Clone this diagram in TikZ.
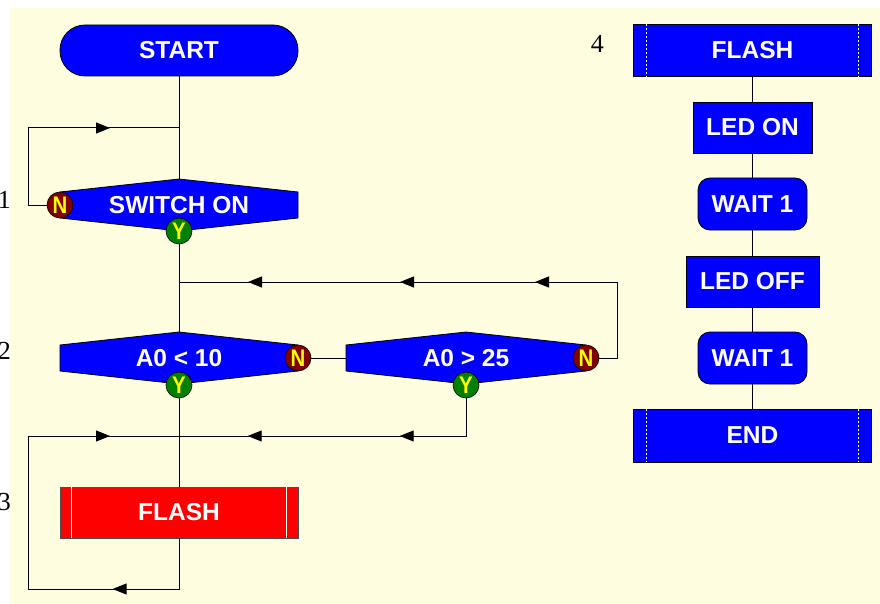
\documentclass[tikz,border=0pt]{standalone}
\usepackage{fontspec}
\setmainfont{Liberation Sans}
\newfontfamily\numfont{Liberation Serif}
\usetikzlibrary{arrows.meta,decorations.markings}
\definecolor{bgyel}{RGB}{255,253,224}
\definecolor{fcblue}{RGB}{0,0,255}
\definecolor{fcred}{RGB}{255,0,0}
\definecolor{nred}{RGB}{128,0,0}
\definecolor{ygreen}{RGB}{0,128,0}
\definecolor{ltxt}{RGB}{255,255,0}
\tikzset{
  txt/.style={text=white, font=\bfseries\fontsize{24.5}{30}\selectfont, inner sep=0pt, align=center},
  box/.style={txt, draw=black, line width=0.8pt, fill=fcblue},
  conn/.style={line width=1pt, draw=black},
  arrat/.style={postaction={decorate,decoration={markings,mark=at position #1 with {\arrow{Triangle[length=14pt,width=11pt]}}}}},
  nb/.style={circle, draw=black, line width=0.6pt, fill=nred, minimum size=26pt, inner sep=0pt, text=ltxt, font=\bfseries\fontsize{24}{24}\selectfont},
  yb/.style={nb, fill=ygreen},
  lbl/.style={font=\numfont\fontsize{26}{30}\selectfont, inner sep=0pt, anchor=base east},
  wline/.style={white, line width=1pt},
}
% name, x, y, halfwidth, fullwidth, text
\newcommand\decis[6]{%
  \filldraw[fill=fcblue, draw=black, line width=0.8pt] ({#2-#4},{#3-13}) -- (#2,{#3-26}) -- ({#2+#4},{#3-13}) -- ({#2+#4},{#3+13}) -- (#2,{#3+26}) -- ({#2-#4},{#3+13}) -- cycle;
  \node[txt, minimum width=#5pt, minimum height=52pt] (#1) at (#2,#3) {#6};}
\begin{document}
\begin{tikzpicture}[x=1pt,y=-1pt]
\useasboundingbox (0,0) rectangle (880,604);
\fill[bgyel] (10,8) rectangle (880,604);

% left column
\node[box, rounded corners=25pt, minimum width=238pt, minimum height=51pt] (start) at (179,50.5) {START};
\decis{sw}{179}{205}{119}{238}{SWITCH ON}
\node[nb] (n1) at (60,205) {\scalebox{0.85}[1]{N}};
\node[yb] (y1) at (179,231) {\scalebox{0.85}[1]{Y}};
\decis{a1}{179}{358}{119}{238}{A0 < 10}
\node[nb] (n2) at (298,358) {\scalebox{0.85}[1]{N}};
\node[yb] (y2) at (179,385) {\scalebox{0.85}[1]{Y}};
\decis{a2}{466}{358}{120}{240}{A0 > 25}
\node[nb] (n3) at (586,358) {\scalebox{0.85}[1]{N}};
\node[yb] (y3) at (466,385) {\scalebox{0.85}[1]{Y}};
\node[box, fill=fcred, draw=black!70, minimum width=238pt, minimum height=51pt] (fl) at (179,512.5) {FLASH};
\draw[wline] ([xshift=12pt]fl.north west) -- ([xshift=12pt]fl.south west);
\draw[wline] ([xshift=-12pt]fl.north east) -- ([xshift=-12pt]fl.south east);

% labels
\node[lbl] (lab1) at (11,208) {1};
\node[lbl] (lab2) at (11,359) {2};
\node[lbl] (lab3) at (11,510) {3};
\node[lbl] (lab4) at (604,53) {4};

% left connectors
\coordinate (l1) at (28,128);
\coordinate (j1) at (179,282);
\coordinate (r1) at (617,282);
\coordinate (j2) at (179,436);
\coordinate (b1) at (28,589);
\draw[conn] (start.south) -- (sw.north);
\draw[conn] (n1.west) -| (l1);
\draw[conn, arrat=82pt] (l1) -- (start.south |- l1);
\draw[conn] (y1.south) -- (a1.north);
\draw[conn] (n3.east) -| (r1);
\draw[conn, arrat=82pt, arrat=217pt, arrat=369pt] (r1) -- (j1);
\draw[conn] (n2.east) -- (a2.west);
\draw[conn] (y2.south) -- (fl.north);
\draw[conn, arrat=104pt, arrat=256pt] (y3.south) |- (j2);
\draw[conn, arrat=117pt] (fl.south) |- (b1);
\draw[conn, arrat=235pt] (b1) |- (j2);

% right column
\node[box, minimum width=238pt, minimum height=52pt] (f4) at (752.5,50) {FLASH};
\draw[wline, dash pattern=on 2pt off 2pt] ([xshift=13pt]f4.north west) -- ([xshift=13pt]f4.south west);
\draw[wline, dash pattern=on 2pt off 2pt] ([xshift=-13pt]f4.north east) -- ([xshift=-13pt]f4.south east);
\node[box, minimum width=119pt, minimum height=51pt] (ledon) at (752.5,127.5) {LED ON};
\node[box, rounded corners=12pt, minimum width=109pt, minimum height=52pt] (w1) at (752.5,204) {WAIT 1};
\node[box, minimum width=133pt, minimum height=51pt] (ledoff) at (752.5,281.5) {LED OFF};
\node[box, rounded corners=12pt, minimum width=109pt, minimum height=52pt] (w2) at (752.5,358) {WAIT 1};
\node[box, minimum width=238pt, minimum height=53pt] (endn) at (752.5,435.5) {END};
\draw[wline, dash pattern=on 2pt off 2pt] ([xshift=13pt]endn.north west) -- ([xshift=13pt]endn.south west);
\draw[wline, dash pattern=on 2pt off 2pt] ([xshift=-13pt]endn.north east) -- ([xshift=-13pt]endn.south east);
\draw[conn] (f4.south) -- (ledon.north);
\draw[conn] (ledon.south) -- (w1.north);
\draw[conn] (w1.south) -- (ledoff.north);
\draw[conn] (ledoff.south) -- (w2.north);
\draw[conn] (w2.south) -- (endn.north);
\end{tikzpicture}
\end{document}
